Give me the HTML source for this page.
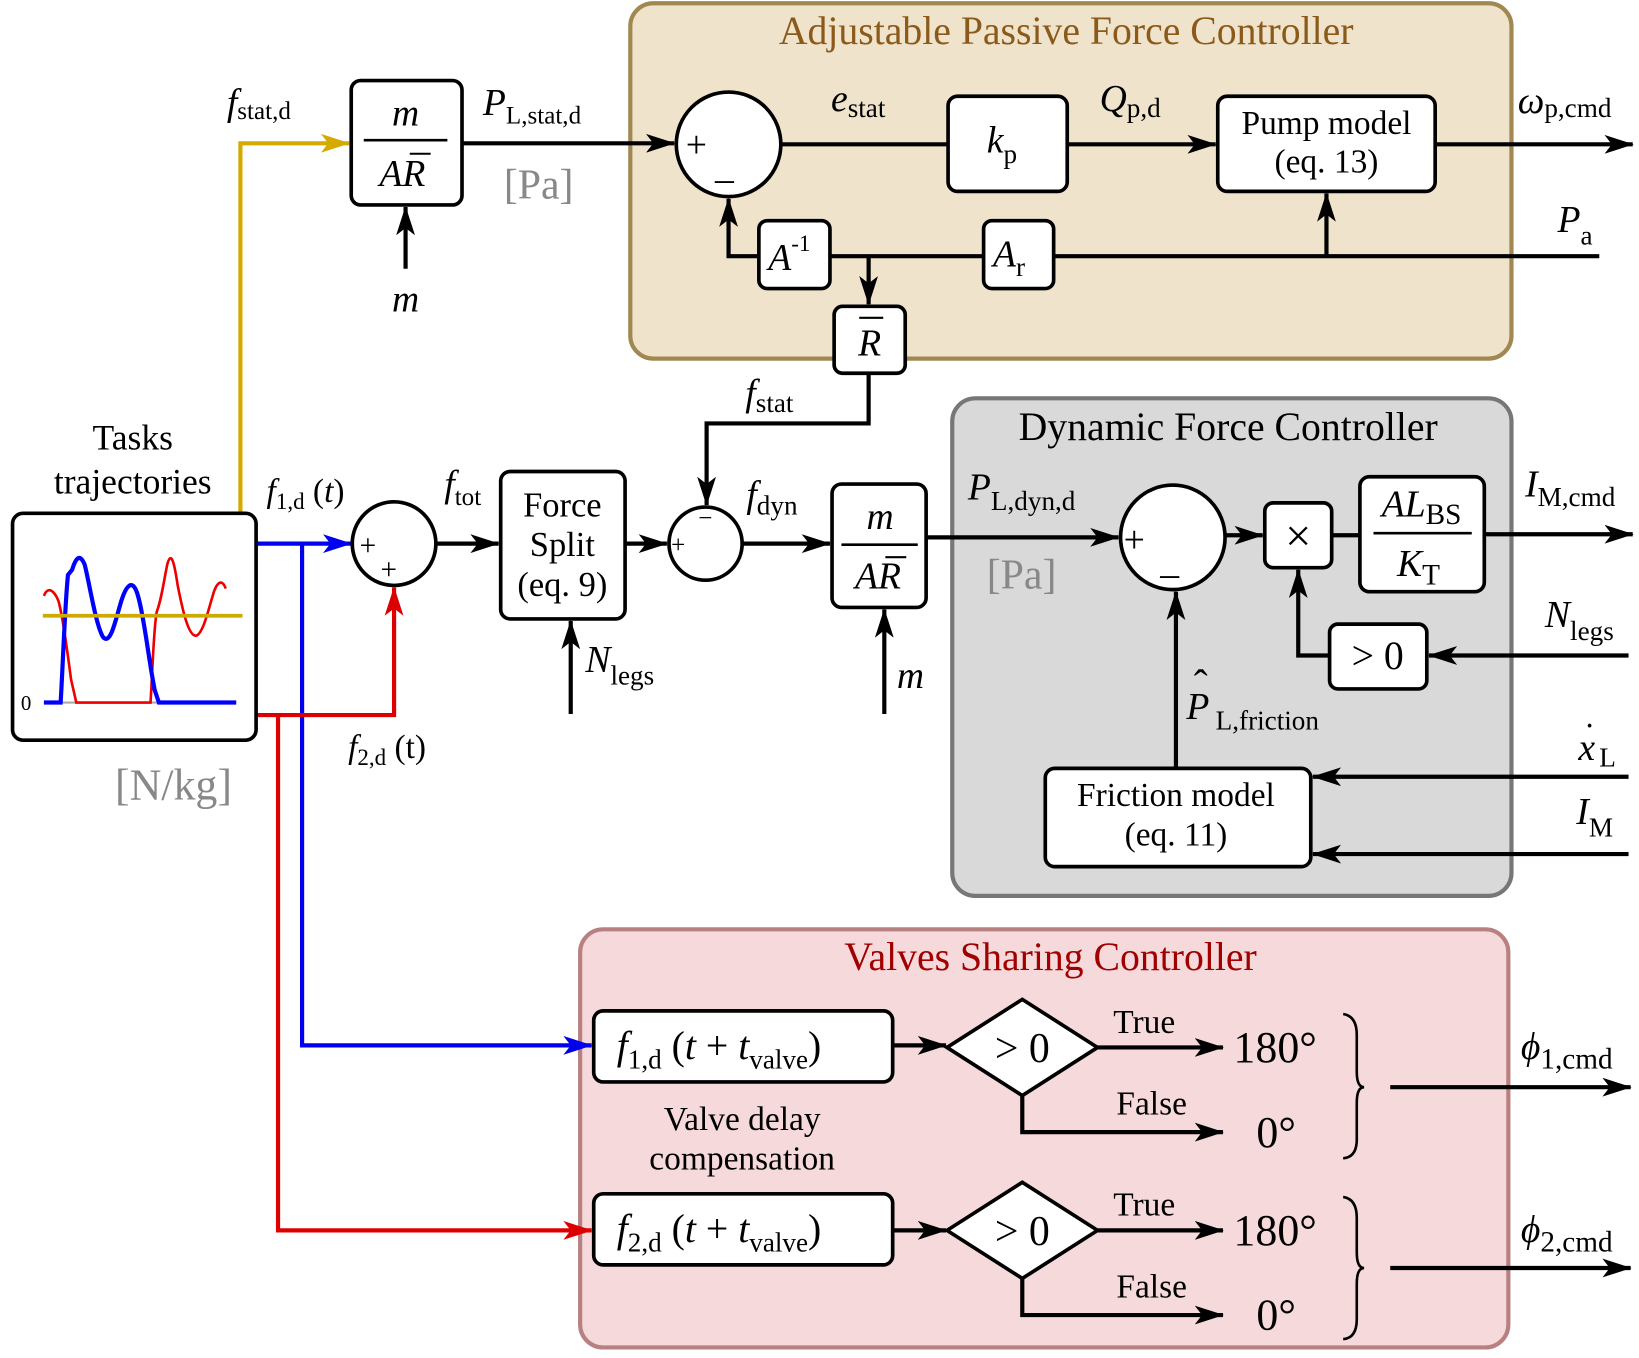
<!DOCTYPE html>
<html><head><meta charset="utf-8"><style>
html,body{margin:0;padding:0;background:#fff;}
svg{display:block;}
text{font-family:"Liberation Serif","DejaVu Serif",serif;fill:#000;}
.i{font-style:italic;}
</style></head><body>
<svg width="1639" height="1358" viewBox="0 0 1568 1299" xmlns="http://www.w3.org/2000/svg" font-family="Liberation Serif, DejaVu Serif, serif">
<defs>
<marker id="a" viewBox="0 0 28 18" refX="27" refY="9" markerWidth="28" markerHeight="18" markerUnits="userSpaceOnUse" orient="auto"><path d="M0,0 L28,9 L0,18 L7,9z" fill="#000"/></marker>
<marker id="ab" viewBox="0 0 28 18" refX="27" refY="9" markerWidth="28" markerHeight="18" markerUnits="userSpaceOnUse" orient="auto"><path d="M0,0 L28,9 L0,18 L7,9z" fill="#0000ee"/></marker>
<marker id="ar" viewBox="0 0 28 18" refX="27" refY="9" markerWidth="28" markerHeight="18" markerUnits="userSpaceOnUse" orient="auto"><path d="M0,0 L28,9 L0,18 L7,9z" fill="#dd0000"/></marker>
<marker id="ay" viewBox="0 0 28 18" refX="27" refY="9" markerWidth="28" markerHeight="18" markerUnits="userSpaceOnUse" orient="auto"><path d="M0,0 L28,9 L0,18 L7,9z" fill="#d4aa00"/></marker>
</defs>

<rect x="603" y="3" width="843" height="340" rx="22" fill="#efe3cb" stroke="#a08850" stroke-width="4"/>
<text x="1020" y="42" font-size="38" text-anchor="middle" style="fill:#8b5a1a">Adjustable Passive Force Controller</text>
<rect x="911" y="381" width="535" height="476" rx="22" fill="#d9d9d9" stroke="#777" stroke-width="4"/>
<text x="1175" y="421" font-size="38" text-anchor="middle">Dynamic Force Controller</text>
<rect x="555" y="889" width="888" height="400" rx="22" fill="#f5d9db" stroke="#b88080" stroke-width="4"/>
<text x="1005" y="928" font-size="38" text-anchor="middle" style="fill:#a00000">Valves Sharing Controller</text>

<g fill="none" stroke-width="4">
<polyline points="230,491 230,137 334,137" stroke="#d4aa00" marker-end="url(#ay)"/>
<polyline points="245,520 336,520" stroke="#0000ee" marker-end="url(#ab)"/>
<polyline points="289,520 289,1000 566,1000" stroke="#0000ee" marker-end="url(#ab)"/>
<polyline points="245,684 377,684 377,562" stroke="#dd0000" marker-end="url(#ar)"/>
<polyline points="266,684 266,1177 566,1177" stroke="#dd0000" marker-end="url(#ar)"/>
</g>
<g fill="none" stroke="#000" stroke-width="4" marker-end="url(#a)">
<line x1="442" y1="137" x2="645" y2="137"/>
<line x1="1021" y1="138" x2="1163" y2="138"/>
<line x1="1373" y1="138" x2="1562" y2="138"/>
<polyline points="726,245 697,245 697,190"/>
<line x1="1269" y1="245" x2="1269" y2="185"/>
<line x1="831" y1="245" x2="831" y2="291"/>
<polyline points="831,357 831,405 676,405 676,483"/>
<line x1="417" y1="520" x2="477" y2="520"/>
<line x1="598" y1="520" x2="638" y2="520"/>
<line x1="710" y1="520" x2="794" y2="520"/>
<line x1="886" y1="514" x2="1070" y2="514"/>
<line x1="1172" y1="512" x2="1208" y2="512"/>
<line x1="1420" y1="511" x2="1562" y2="511"/>
<line x1="546" y1="683" x2="546" y2="594"/>
<line x1="846" y1="683" x2="846" y2="583"/>
<line x1="388" y1="257" x2="388" y2="198"/>
<line x1="1558" y1="627" x2="1367" y2="627"/>
<polyline points="1272,627 1242,627 1242,545"/>
<line x1="1125" y1="735" x2="1125" y2="566"/>
<line x1="1558" y1="743" x2="1256" y2="743"/>
<line x1="1558" y1="817" x2="1256" y2="817"/>
<line x1="854" y1="1000" x2="905" y2="1000"/>
<line x1="1050" y1="1002" x2="1170" y2="1002"/>
<polyline points="978,1048 978,1083 1170,1083"/>
<line x1="1330" y1="1040" x2="1560" y2="1040"/>
<line x1="854" y1="1177" x2="905" y2="1177"/>
<line x1="1050" y1="1177" x2="1170" y2="1177"/>
<polyline points="978,1223 978,1258 1170,1258"/>
<line x1="1330" y1="1213" x2="1560" y2="1213"/>
</g>
<g fill="none" stroke="#000" stroke-width="4">
<line x1="747" y1="138" x2="907" y2="138"/>
<line x1="1530" y1="245" x2="1008" y2="245"/>
<line x1="941" y1="245" x2="794" y2="245"/>
<line x1="1274" y1="512" x2="1301" y2="512"/>
</g>

<g fill="#fff" stroke="#000" stroke-width="3.5">
<rect x="336" y="77" width="106" height="119" rx="9"/>
<circle cx="697" cy="138" r="50"/>
<rect x="907" y="92" width="114" height="91" rx="9"/>
<rect x="1165" y="92" width="208" height="91" rx="9"/>
<rect x="726" y="211" width="68" height="65" rx="8"/>
<rect x="941" y="211" width="67" height="65" rx="8"/>
<rect x="798" y="293" width="68" height="64" rx="8"/>
<rect x="12" y="491" width="233" height="217" rx="10"/>
<circle cx="377" cy="520" r="40"/>
<rect x="479" y="451" width="119" height="141" rx="9"/>
<circle cx="675" cy="520" r="35"/>
<rect x="796" y="463" width="90" height="118" rx="9"/>
<circle cx="1122" cy="514" r="50"/>
<rect x="1210" y="481" width="64" height="62" rx="8"/>
<rect x="1301" y="456" width="119" height="110" rx="9"/>
<rect x="1272" y="597" width="93" height="62" rx="8"/>
<rect x="1000" y="735" width="254" height="94" rx="9"/>
<rect x="568" y="967" width="286" height="68" rx="9"/>
<polygon points="906,1002 978,956 1050,1002 978,1048"/>
<rect x="568" y="1142" width="286" height="68" rx="9"/>
<polygon points="906,1177 978,1131 1050,1177 978,1223"/>
</g>

<line x1="42" y1="672" x2="225" y2="672" stroke="#aaa" stroke-width="2"/>
<path d="M42,570 C46,560 52,565 56,575 C60,590 64,620 68,650 L73,672 L144,672 C146,640 147,600 150,585 C154,575 156,560 160,540 C164,525 167,540 170,560 C174,580 180,610 188,608 C195,605 200,580 205,565 C209,555 213,555 216,563" fill="none" stroke="#ee0000" stroke-width="2.5"/>
<path d="M42,672 L58,672 C60,640 62,580 65,550 L69,545 C72,535 76,528 81,540 C86,560 92,600 99,610 C106,616 110,595 116,575 C122,556 128,555 132,570 C138,590 142,630 148,660 L152,672 L226,672" fill="none" stroke="#0000ff" stroke-width="4"/>
<line x1="41" y1="589" x2="232" y2="589" stroke="#ccaa00" stroke-width="3.5"/>
<text x="20" y="679" font-size="20">0</text>

<g font-size="36">
<text x="388" y="120" text-anchor="middle" class="i">m</text>
<line x1="348" y1="134" x2="428" y2="134" stroke="#000" stroke-width="2.5"/>
<text x="385" y="178" text-anchor="middle" class="i">AR</text>
<line x1="392" y1="147" x2="412" y2="147" stroke="#000" stroke-width="2"/>
<text x="388" y="298" text-anchor="middle" class="i">m</text>
<text x="217" y="110"><tspan class="i">f</tspan><tspan font-size="24" dy="4">stat,d</tspan></text>
<text x="462" y="110"><tspan class="i">P</tspan><tspan font-size="24" dy="8">L,stat,d</tspan></text>
<text x="482" y="190" font-size="40" style="fill:#888">[Pa]</text>
<text x="656" y="150" font-size="36">+</text><text x="684" y="170" font-size="36">_</text>
<text x="795" y="106"><tspan class="i">e</tspan><tspan font-size="26" dy="6">stat</tspan></text>
<text x="944" y="146"><tspan class="i">k</tspan><tspan font-size="26" dy="10">p</tspan></text>
<text x="1052" y="106"><tspan class="i">Q</tspan><tspan font-size="26" dy="6">p,d</tspan></text>
<text x="1269" y="128" text-anchor="middle" font-size="32">Pump model</text>
<text x="1269" y="165" text-anchor="middle" font-size="32">(eq. 13)</text>
<text x="1452" y="108"><tspan class="i">ω</tspan><tspan font-size="26" dy="4">p,cmd</tspan></text>
<text x="1490" y="222"><tspan class="i">P</tspan><tspan font-size="26" dy="12">a</tspan></text>
<text x="735" y="258"><tspan class="i">A</tspan><tspan font-size="22" dy="-18">-1</tspan></text>
<text x="950" y="255"><tspan class="i">A</tspan><tspan font-size="26" dy="9">r</tspan></text>
<text x="832" y="340" text-anchor="middle" class="i">R</text>
<line x1="822" y1="304" x2="845" y2="304" stroke="#000" stroke-width="2"/>
<text x="713" y="388"><tspan class="i">f</tspan><tspan font-size="26" dy="6">stat</tspan></text>
<text x="127" y="430" text-anchor="middle" font-size="34">Tasks</text>
<text x="127" y="472" text-anchor="middle" font-size="34">trajectories</text>
<text x="110" y="765" font-size="42" style="fill:#888">[N/kg]</text>
<text x="255" y="480" font-size="32"><tspan class="i">f</tspan><tspan font-size="22" dy="7">1,d</tspan><tspan dy="-7"> (</tspan><tspan class="i">t</tspan>)</text>
<text x="333" y="725" font-size="32"><tspan class="i">f</tspan><tspan font-size="22" dy="7">2,d</tspan><tspan dy="-7"> (t)</tspan></text>
<text x="344" y="531" font-size="28">+</text><text x="364" y="554" font-size="28">+</text>
<text x="425" y="475"><tspan class="i">f</tspan><tspan font-size="24" dy="8">tot</tspan></text>
<text x="538" y="494" text-anchor="middle" font-size="33">Force</text>
<text x="538" y="532" text-anchor="middle" font-size="33">Split</text>
<text x="538" y="570" text-anchor="middle" font-size="33">(eq. 9)</text>
<text x="560" y="643"><tspan class="i">N</tspan><tspan font-size="26" dy="12">legs</tspan></text>
<text x="642" y="529" font-size="24">+</text><text x="668" y="503" font-size="24">−</text>
<text x="714" y="485"><tspan class="i">f</tspan><tspan font-size="26" dy="7">dyn</tspan></text>
<text x="842" y="506" text-anchor="middle" class="i">m</text>
<line x1="805" y1="521" x2="878" y2="521" stroke="#000" stroke-width="2.5"/>
<text x="840" y="563" text-anchor="middle" class="i">AR</text>
<line x1="847" y1="533" x2="867" y2="533" stroke="#000" stroke-width="2"/>
<text x="858" y="658" class="i">m</text>
<text x="926" y="478"><tspan class="i">P</tspan><tspan font-size="26" dy="10">L,dyn,d</tspan></text>
<text x="944" y="563" font-size="40" style="fill:#888">[Pa]</text>
<text x="1075" y="528" font-size="36">+</text><text x="1110" y="548" font-size="36">_</text>
<text x="1242" y="527" text-anchor="middle" font-size="44">×</text>
<text x="1360" y="494" text-anchor="middle"><tspan class="i">AL</tspan><tspan font-size="28" dy="7">BS</tspan></text>
<line x1="1314" y1="510" x2="1408" y2="510" stroke="#000" stroke-width="2.5"/>
<text x="1357" y="551" text-anchor="middle"><tspan class="i">K</tspan><tspan font-size="28" dy="8">T</tspan></text>
<text x="1459" y="475"><tspan class="i">I</tspan><tspan font-size="26" dy="9">M,cmd</tspan></text>
<text x="1318" y="640" text-anchor="middle" font-size="38">&gt; 0</text>
<text x="1478" y="600"><tspan class="i">N</tspan><tspan font-size="26" dy="12">legs</tspan></text>
<text x="1135" y="688" class="i">P</text><text x="1142" y="668" font-size="40">ˆ</text><text x="1163" y="698" font-size="26">L,friction</text>
<text x="1510" y="727" class="i">x</text><text x="1515" y="715" font-size="34">˙</text><text x="1530" y="733" font-size="26">L</text>
<text x="1508" y="788"><tspan class="i">I</tspan><tspan font-size="26" dy="12">M</tspan></text>
<text x="1125" y="771" text-anchor="middle" font-size="32">Friction model</text>
<text x="1125" y="809" text-anchor="middle" font-size="32">(eq. 11)</text>
<text x="590" y="1013" font-size="38"><tspan class="i">f</tspan><tspan font-size="26" dy="9">1,d</tspan><tspan dy="-9"> (</tspan><tspan class="i">t</tspan> + <tspan class="i">t</tspan><tspan font-size="26" dy="9">valve</tspan><tspan dy="-9">)</tspan></text>
<text x="590" y="1188" font-size="38"><tspan class="i">f</tspan><tspan font-size="26" dy="9">2,d</tspan><tspan dy="-9"> (</tspan><tspan class="i">t</tspan> + <tspan class="i">t</tspan><tspan font-size="26" dy="9">valve</tspan><tspan dy="-9">)</tspan></text>
<text x="710" y="1081" text-anchor="middle" font-size="32">Valve delay</text>
<text x="710" y="1119" text-anchor="middle" font-size="32">compensation</text>
<text x="978" y="1016" text-anchor="middle" font-size="40">&gt; 0</text>
<text x="978" y="1191" text-anchor="middle" font-size="40">&gt; 0</text>
<text x="1065" y="988" font-size="32">True</text><text x="1068" y="1066" font-size="32">False</text>
<text x="1065" y="1163" font-size="32">True</text><text x="1068" y="1241" font-size="32">False</text>
<text x="1180" y="1016" font-size="42">180°</text><text x="1202" y="1097" font-size="42">0°</text>
<text x="1180" y="1191" font-size="42">180°</text><text x="1202" y="1272" font-size="42">0°</text>
<text x="1455" y="1013"><tspan class="i">ϕ</tspan><tspan font-size="28" dy="9">1,cmd</tspan></text>
<text x="1455" y="1188"><tspan class="i">ϕ</tspan><tspan font-size="28" dy="9">2,cmd</tspan></text>
</g>
<g fill="none" stroke="#000" stroke-width="2.5">
<path d="M1285,970 Q1298,972 1298,990 L1298,1025 Q1298,1040 1305,1040 Q1298,1040 1298,1055 L1298,1090 Q1298,1107 1285,1108"/>
<path d="M1285,1145 Q1298,1147 1298,1165 L1298,1198 Q1298,1213 1305,1213 Q1298,1213 1298,1228 L1298,1262 Q1298,1280 1285,1281"/>
</g>
</svg>
</body></html>
